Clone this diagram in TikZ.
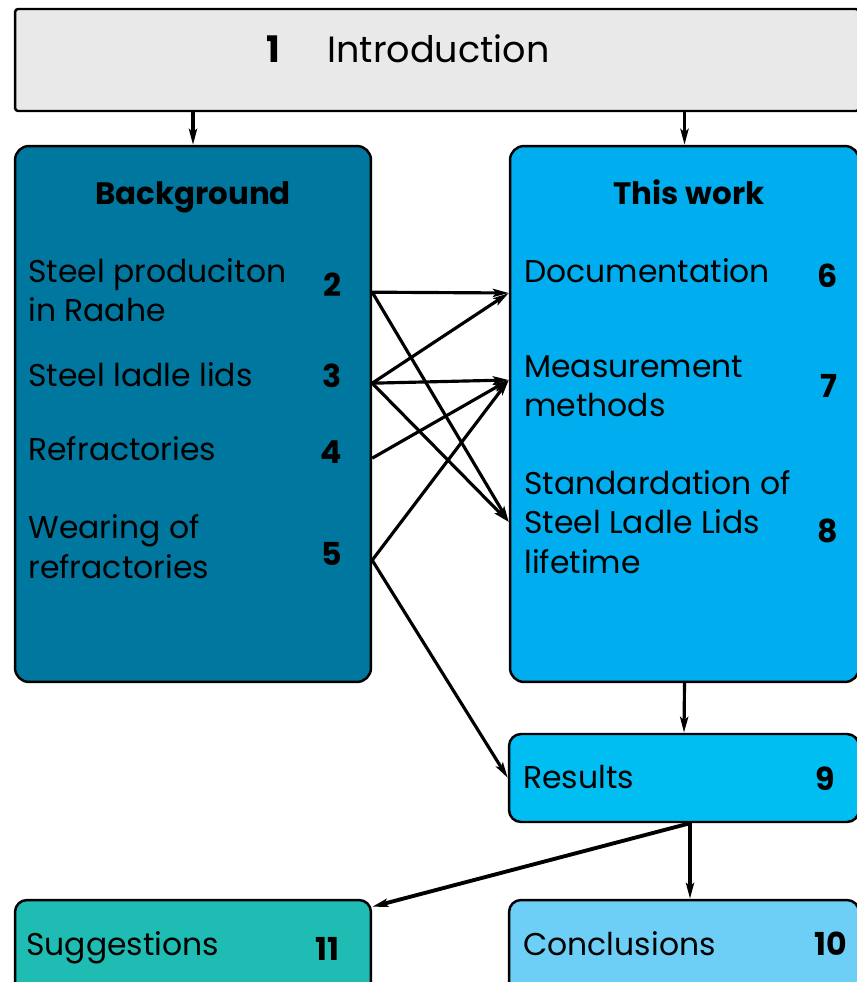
\documentclass[tikz,border=0pt]{standalone}
\usepackage{fontspec}
\setmainfont{Poppins}
\usetikzlibrary{arrows.meta, positioning, calc}

\definecolor{introgray}{HTML}{E9E9E9}
\definecolor{bgblue}{HTML}{00779F}
\definecolor{workblue}{HTML}{00AEEF}
\definecolor{resblue}{HTML}{00BDF2}
\definecolor{suggteal}{HTML}{1EBCB3}
\definecolor{conclblue}{HTML}{6DCFF6}

\begin{document}
\begin{tikzpicture}[
    x=0.02cm, y=-0.02cm,
    panel/.style={rectangle, draw, line width=1.4pt, rounded corners=0.28cm, inner sep=0pt},
    item/.style={anchor=base west, align=left, inner sep=0pt, font=\fontsize{17.9}{22.2}\selectfont},
    num/.style={anchor=base east, inner sep=0pt, font=\fontsize{18}{22}\selectfont\bfseries},
    head/.style={anchor=base, inner sep=0pt, font=\fontsize{17.6}{21}\selectfont\bfseries},
    arrow/.style={-{Stealth[length=9pt, width=4.6pt, inset=1.8pt]}, line width=1.8pt}
]
    \useasboundingbox (0,0) rectangle (857,982);
    \clip (0,0) rectangle (857,982);

    % Introduction
    \node[panel, fill=introgray, rounded corners=0.06cm, minimum width=16.88cm, minimum height=2.04cm] (intro) at (437,60) {};
    \node[num, font=\fontsize{20.8}{24}\selectfont\bfseries] (n1) at (281,63) {1};
    \node[item, font=\fontsize{20.8}{24}\selectfont] (introtxt) at (327,63) {Introduction};

    % Background
    \node[panel, fill=bgblue, minimum width=7.12cm, minimum height=10.72cm] (bg) at (193,414) {};
    \node[head] (bghead) at (193,205) {Background};
    \node[item] (prod) at (28,322) {Steel produciton\\in Raahe};
    \node[num] (n2) at (342,297) {2};
    \node[item] (lids) at (28,387) {Steel ladle lids};
    \node[num] (n3) at (342,388) {3};
    \node[item] (refr) at (28,460) {Refractories};
    \node[num] (n4) at (342,463) {4};
    \node[item] (wear) at (28,578) {Wearing of\\refractories};
    \node[num] (n5) at (342,565) {5};

    % This work
    \node[panel, fill=workblue, minimum width=6.98cm, minimum height=10.72cm] (tw) at (684.5,414) {};
    \node[head] (twhead) at (689,205) {This work};
    \node[item] (docu) at (524,283) {Documentation};
    \node[num] (n6) at (838,288) {6};
    \node[item] (meas) at (524,417) {Measurement\\methods};
    \node[num] (n7) at (838,398) {7};
    \node[item] (stand) at (524,573) {Standardation of\\Steel Ladle Lids\\lifetime};
    \node[num] (n8) at (838,542) {8};

    % Results and the last chapters
    \node[panel, fill=resblue, rounded corners=0.24cm, minimum width=7cm, minimum height=1.76cm] (res) at (684,778) {};
    \node[item] (restxt) at (523,788) {Results};
    \node[num] (n9) at (835,790) {9};
    \node[panel, fill=suggteal, rounded corners=0.24cm, minimum width=7.12cm, minimum height=2cm] (sugg) at (193,950) {};
    \node[item] (suggtxt) at (26,955) {Suggestions};
    \node[num] (n11) at (340,960) {11};
    \node[panel, fill=conclblue, rounded corners=0.24cm, minimum width=7cm, minimum height=2cm] (concl) at (684,950) {};
    \node[item] (concltxt) at (523,955) {Conclusions};
    \node[num] (n10) at (847,955) {10};

    % Entry points on this work
    \coordinate (in6) at (tw.west |- 0,293);
    \coordinate (in7) at (tw.west |- 0,380);
    \coordinate (in8) at (tw.west |- 0,522);
    \coordinate (resout) at ($(res.south)+(6,0)$);

    % Arrows
    \draw[arrow] (bg.north |- intro.south) -- (bg.north);
    \draw[arrow] (tw.north |- intro.south) -- (tw.north);
    \draw[arrow] (bg.east |- n2.mid) -- (in6);
    \draw[arrow] (bg.east |- n2.mid) -- (in8);
    \draw[arrow] (bg.east |- n3.mid) -- (in6);
    \draw[arrow] (bg.east |- n3.mid) -- (in7);
    \draw[arrow] (bg.east |- n3.mid) -- (in8);
    \draw[arrow] (bg.east |- n4.mid) -- (in7);
    \draw[arrow] (bg.east |- n5.mid) -- (in7);
    \draw[arrow] (bg.east |- n5.mid) -- (res.west);
    \draw[arrow] (tw.south) -- (res.north);
    \draw[arrow] (resout) -- (resout |- concl.north);
    \draw[arrow, line width=2.2pt] (resout) -- ($(sugg.north east)+(0,8)$);
\end{tikzpicture}
\end{document}
